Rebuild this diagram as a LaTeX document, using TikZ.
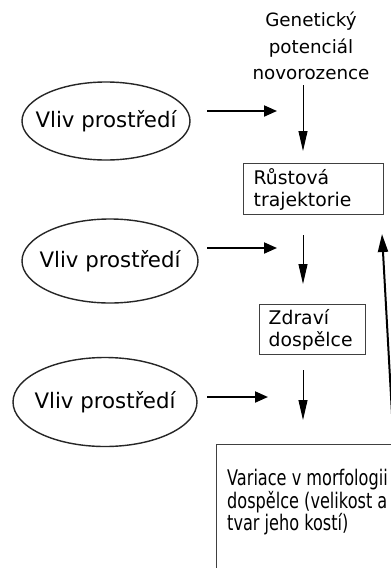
\documentclass[tikz,border=0pt]{standalone}
\usepackage{fontspec}
\setmainfont{DejaVu Sans}
\usetikzlibrary{arrows.meta,shapes.geometric}
\begin{document}
\begin{tikzpicture}[x=1pt,y=-1pt,
  ellshape/.style={draw=black!85, line width=1.4pt, ellipse, inner sep=0pt},
  elltext/.style={inner sep=0pt, font=\fontsize{21.3}{24}\selectfont},
  boxnode/.style={draw=black!75, line width=1.4pt, rectangle, anchor=north west,
    align=left, inner ysep=0pt, font=\fontsize{18.8}{22}\selectfont},
  harrow/.style={line width=2pt, -{Triangle[length=13pt,width=11pt]}},
  varrow/.style={line width=1pt, -{Triangle[length=20pt,width=9pt]}},
  darrow/.style={line width=2pt, -{Triangle[length=18pt,width=10pt]}}]
\useasboundingbox (0,0) rectangle (391,568);
\clip (0,0) rectangle (391,568);
\fill[white] (0,0) rectangle (391,568);

% top text
\node[inner sep=0pt, align=center, anchor=north, font=\fontsize{18.3}{26.5}\selectfont]
  (gen) at (311,12) {Genetický\\potenciál\\novorozence};

% ellipses
\node[ellshape, minimum width=168pt, minimum height=78pt] (e1) at (106,121) {};
\node[elltext] (e1t) at (e1.center) {Vliv prostředí};
\node[ellshape, minimum width=176pt, minimum height=84pt] (e2) at (110,261) {};
\node[elltext] (e2t) at (e2.center) {Vliv prostředí};
\node[ellshape, minimum width=184pt, minimum height=89pt] (e3) at (105,402) {};
\node[elltext] (e3t) at (e3.center) {Vliv prostředí};

% boxes
\node[boxnode, minimum width=140pt, minimum height=51pt, inner xsep=10pt, text width=120pt]
  (b1) at (243,163) {Růstová\\trajektorie};
\node[boxnode, minimum width=106pt, minimum height=50pt, inner xsep=9pt, text width=88pt]
  (b2) at (259,304) {Zdraví\\dospělce};
\node[draw=black!75, line width=1.4pt, rectangle, anchor=north west,
  minimum width=230pt, minimum height=160pt] (b3) at (216,444) {};
\node[inner sep=0pt, anchor=north west, align=left,
  font=\fontsize{21.5}{22.5}\selectfont\addfontfeatures{FakeStretch=0.75}]
  (b3t) at (227,469) {Variace v morfologii\\dospělce (velikost a\\tvar jeho kostí)};

% arrow coordinates
\coordinate (h1s) at (207,111); \coordinate (h1e) at (277,111);
\coordinate (h2s) at (207,248); \coordinate (h2e) at (277,248);
\coordinate (h3s) at (207,397); \coordinate (h3e) at (268,397);
\coordinate (v1s) at (303,85);  \coordinate (v1e) at (303,151);
\coordinate (v2s) at (303,235); \coordinate (v2e) at (303,284);
\coordinate (v3s) at (303,370); \coordinate (v3e) at (303,420);
\coordinate (ds) at (393,432);  \coordinate (de) at (382,234);

\draw[harrow] (h1s) -- (h1e);
\draw[harrow] (h2s) -- (h2e);
\draw[harrow] (h3s) -- (h3e);
\draw[varrow] (v1s) -- (v1e);
\draw[varrow] (v2s) -- (v2e);
\draw[varrow] (v3s) -- (v3e);
\draw[darrow] (ds) -- (de);
\end{tikzpicture}
\end{document}
